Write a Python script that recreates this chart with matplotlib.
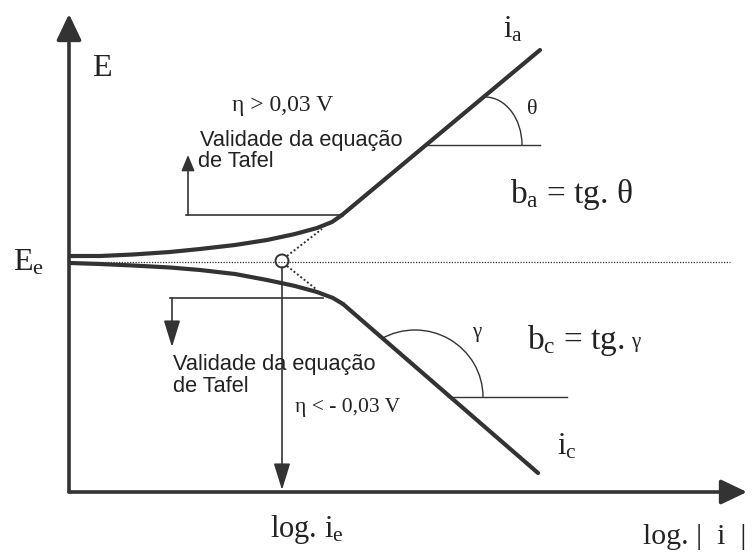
import numpy as np
import matplotlib
matplotlib.use("Agg")
import matplotlib.pyplot as plt
from matplotlib.patches import Arc, Circle

# ==============================
# dados do diagrama (coordenadas em pixels da figura, y para baixo)
# ==============================
ramo_anodico_x = [70, 100, 133, 170, 200, 235, 267, 295, 317, 332, 342]
ramo_anodico_y = [256, 256, 254.5, 252, 249, 245, 240, 234, 228, 222, 215]
tafel_a_x = [342, 540]
tafel_a_y = [215, 50]

ramo_catodico_x = [70, 100, 133, 170, 200, 235, 267, 295, 317, 333, 343]
ramo_catodico_y = [263, 264, 265.5, 267.5, 270, 274, 280, 286, 292, 298, 304]
tafel_c_x = [343, 538]
tafel_c_y = [304, 473]

E_eq = 262
log_ie = 282
extrap_a = ([287, 322], [256, 229])
extrap_c = ([287, 316], [266, 289])

rotulos = {
    "E": "E",
    "Ee": r"E$_\mathrm{e}$",
    "ia": r"i$_\mathrm{a}$",
    "ic": r"i$_\mathrm{c}$",
    "ba": r"b$_\mathrm{a}$ = tg. θ",
    "log_ie": r"log. i$_\mathrm{e}$",
    "log_i": "log. |  i  |",
}

COR = "#333333"
COR_TXT = "#222222"

plt.rcParams["mathtext.fontset"] = "custom"
plt.rcParams["mathtext.rm"] = "Liberation Serif"
plt.rcParams["mathtext.it"] = "Liberation Serif:italic"

fig = plt.figure(figsize=(7.53, 5.59), dpi=100)
ax = fig.add_axes([0, 0, 1, 1])
ax.set_xlim(0, 753)
ax.set_ylim(559, 0)
ax.axis("off")

serif = "Liberation Serif"
sans = "Liberation Sans"

def seta(x0, y0, x1, y1, lw, ms, hw=0.2, hl=0.4):
    ax.annotate("", xy=(x1, y1), xytext=(x0, y0),
                arrowprops=dict(arrowstyle=f"-|>,head_width={hw},head_length={hl}",
                                mutation_scale=ms, lw=lw, color=COR,
                                shrinkA=0, shrinkB=0))

# eixos
seta(69, 492, 69, 14, 2.6, 38, hw=0.2, hl=0.42)
seta(69, 492, 747, 492, 2.6, 38, hw=0.2, hl=0.42)

# linha de equilibrio
ax.plot([69, 730], [E_eq, E_eq], color=COR, lw=0.9, ls=(0, (1, 1.2)))

# ramos
ax.plot(ramo_anodico_x, ramo_anodico_y, color=COR, lw=3, solid_capstyle="round")
ax.plot(tafel_a_x, tafel_a_y, color=COR, lw=3, solid_capstyle="round")
ax.plot(ramo_catodico_x, ramo_catodico_y, color=COR, lw=3, solid_capstyle="round")
ax.plot(tafel_c_x, tafel_c_y, color=COR, lw=3, solid_capstyle="round")

# extrapolacoes
ax.plot(*extrap_a, color=COR, lw=1.4, ls=(0, (1, 1.2)))
ax.plot(*extrap_c, color=COR, lw=1.4, ls=(0, (1, 1.2)))
ax.add_patch(Circle((log_ie, E_eq - 1), 6.5, fill=False, ec=COR, lw=1.4))

# seta ate log ie
seta(log_ie, E_eq + 5, log_ie, 490, 1.2, 30, hw=0.17, hl=0.55)

# validade - ramo anodico
ax.plot([186, 342], [215, 215], color=COR, lw=1.2)
seta(188, 215, 188, 155, 1.2, 16, hw=0.25, hl=0.6)
# validade - ramo catodico
ax.plot([170, 323], [298, 298], color=COR, lw=1.2)
seta(172, 298, 172, 347, 1.2, 30, hw=0.17, hl=0.55)

# angulo theta
ax.plot([427, 540], [145, 145], color=COR, lw=1.0)
ax.add_patch(Arc((485, 145), 74, 96, theta1=270, theta2=360, color=COR, lw=1.0))
# angulo gama
ax.plot([453, 567], [397, 397], color=COR, lw=1.0)
ax.add_patch(Arc((415, 397), 136, 134, theta1=240, theta2=360, color=COR, lw=1.0))

# textos
ax.text(102, 69, rotulos["E"], family=serif, fontsize=23, color=COR_TXT,
        ha="center", va="center")
ax.text(13, 263, rotulos["Ee"], family=serif, fontsize=23, color=COR_TXT,
        ha="left", va="center")
ax.text(503, 30, rotulos["ia"], family=serif, fontsize=22, color=COR_TXT,
        ha="left", va="center")
ax.text(557, 447, rotulos["ic"], family=serif, fontsize=22, color=COR_TXT,
        ha="left", va="center")
ax.text(532, 110, "θ", family=serif, fontsize=16, color=COR_TXT,
        ha="center", va="center")
ax.text(477, 333, "γ", family=serif, fontsize=15, color=COR_TXT,
        ha="center", va="center")
ax.text(510, 194, rotulos["ba"], family=serif, fontsize=24, color=COR_TXT,
        ha="left", va="center")
ax.text(527, 340, r"b$_\mathrm{c}$ = tg.", family=serif, fontsize=24,
        color=COR_TXT, ha="left", va="center")
ax.text(631, 343, "γ", family=serif, fontsize=15, color=COR_TXT,
        ha="left", va="center")
ax.text(270, 530, rotulos["log_ie"], family=serif, fontsize=22, color=COR_TXT,
        ha="left", va="center")
ax.text(643, 537, rotulos["log_i"], family=serif, fontsize=21.5, color=COR_TXT,
        ha="left", va="center")

ax.text(232, 106, "η > 0,03 V", family=serif, fontsize=17, color=COR_TXT,
        ha="left", va="center")
ax.text(295, 412, "η < - 0,03 V", family=serif, fontsize=15.5, color=COR_TXT,
        ha="left", va="baseline")

ax.text(200, 146, "Validade da equação", family=sans, fontsize=15.7,
        color=COR_TXT, ha="left", va="baseline")
ax.text(198, 167, "de Tafel", family=sans, fontsize=15.7, color=COR_TXT,
        ha="left", va="baseline")
ax.text(173, 370, "Validade da equação", family=sans, fontsize=15.7,
        color=COR_TXT, ha="left", va="baseline")
ax.text(173, 392, "de Tafel", family=sans, fontsize=15.7, color=COR_TXT,
        ha="left", va="baseline")

fig.savefig("out.png", dpi=100, facecolor="white")
